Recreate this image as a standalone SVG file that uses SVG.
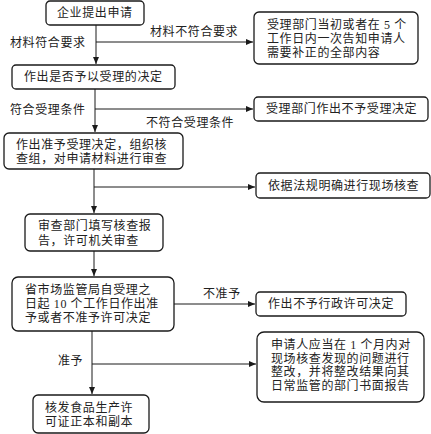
<svg xmlns="http://www.w3.org/2000/svg" width="431" height="434" viewBox="0 0 431 434">
<style>
.b{fill:#fff;stroke:#1a1a1a;stroke-width:1.3}
.t{font-family:"Liberation Serif","Noto Sans CJK SC",serif;font-size:12px;fill:#222;letter-spacing:0.6px}
.c{fill:none;stroke:#1a1a1a;stroke-width:1}
</style>
<defs>
<marker id="a" markerWidth="8" markerHeight="8" refX="7" refY="4" orient="auto" markerUnits="userSpaceOnUse">
<path d="M0,1 L7,4 L0,7 Z" fill="#1a1a1a"/>
</marker>
</defs>
<rect width="431" height="434" fill="#fff"/>
<g id="connectors">
<path class="c" d="M96,25 V64" marker-end="url(#a)"/>
<path class="c" d="M96,42 H253" marker-end="url(#a)"/>
<path class="c" d="M95,89 V132" marker-end="url(#a)"/>
<path class="c" d="M95,109 H253" marker-end="url(#a)"/>
<path class="c" d="M94,169 V213" marker-end="url(#a)"/>
<path class="c" d="M94,187 H255" marker-end="url(#a)"/>
<path class="c" d="M94,251 V276" marker-end="url(#a)"/>
<path class="c" d="M174,304 H255" marker-end="url(#a)"/>
<path class="c" d="M92,331 V394" marker-end="url(#a)"/>
<path class="c" d="M92,364 H256" marker-end="url(#a)"/>
<text class="t" x="150" y="36">材料不符合要求</text>
<text class="t" x="10" y="47">材料符合要求</text>
<text class="t" x="10" y="114">符合受理条件</text>
<text class="t" x="146" y="127">不符合受理条件</text>
<text class="t" x="203" y="298">不准予</text>
<text class="t" x="58" y="365">准予</text>
</g>
<g id="n1"><rect class="b" x="46" y="1" width="98" height="24" rx="4"/><text class="t" x="57" y="17">企业提出申请</text></g>
<g id="n2"><rect class="b" x="254" y="12" width="164" height="52" rx="5"/><text class="t" x="267" y="29">受理部门当初或者在 5 个</text><text class="t" x="267" y="43">工作日内一次告知申请人</text><text class="t" x="267" y="57">需要补正的全部内容</text></g>
<g id="n3"><rect class="b" x="12" y="65" width="163" height="24" rx="4"/><text class="t" x="24" y="81">作出是否予以受理的决定</text></g>
<g id="n4"><rect class="b" x="254" y="97" width="174" height="24" rx="4"/><text class="t" x="266" y="113">受理部门作出不予受理决定</text></g>
<g id="n5"><rect class="b" x="4" y="133" width="179" height="36" rx="5"/><text class="t" x="16" y="149">作出准予受理决定，组织核</text><text class="t" x="16" y="163">查组，对申请材料进行审查</text></g>
<g id="n6"><rect class="b" x="256" y="173" width="174" height="25" rx="4"/><text class="t" x="268" y="190">依据法规明确进行现场核查</text></g>
<g id="n7"><rect class="b" x="25" y="214" width="138" height="37" rx="5"/><text class="t" x="38" y="230">审查部门填写核查报</text><text class="t" x="38" y="245">告，许可机关审查</text></g>
<g id="n8"><rect class="b" x="12" y="277" width="162" height="54" rx="6"/><text class="t" x="25" y="294">省市场监管局自受理之</text><text class="t" x="25" y="308">日起 10 个工作日作出准</text><text class="t" x="25" y="322">予或者不准予许可决定</text></g>
<g id="n9"><rect class="b" x="256" y="292" width="150" height="24" rx="4"/><text class="t" x="268" y="308">作出不予行政许可决定</text></g>
<g id="n10"><rect class="b" x="257" y="332" width="167" height="70" rx="7"/><text class="t" x="271" y="349">申请人应当在 1 个月内对</text><text class="t" x="271" y="363">现场核查发现的问题进行</text><text class="t" x="271" y="376">整改，并将整改结果向其</text><text class="t" x="271" y="390">日常监管的部门书面报告</text></g>
<g id="n11"><rect class="b" x="33" y="395" width="116" height="38" rx="5"/><text class="t" x="45" y="412">核发食品生产许</text><text class="t" x="45" y="426">可证正本和副本</text></g>
</svg>
